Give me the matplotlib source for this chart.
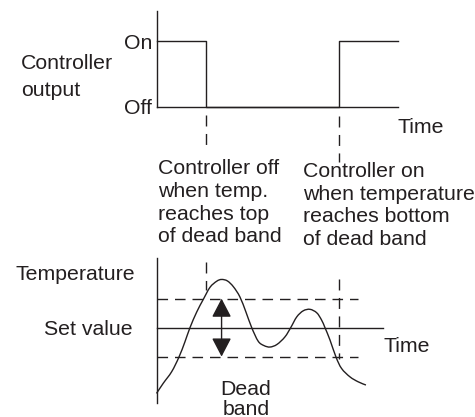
import matplotlib
matplotlib.use("Agg")
import matplotlib.pyplot as plt
from matplotlib.patches import FancyArrowPatch, PathPatch
from matplotlib.path import Path

plt.rcParams['font.family'] = ['Liberation Sans', 'DejaVu Sans']
plt.rcParams['lines.scale_dashes'] = False

INK = '#231f20'
FS = 15.3
LW = 1.0
DASH = (7.6, 5.0)
VDASH = (7.9, 5.4)

W, H = 475, 417

# controller output: 1 = on, 0 = off
switch_off = 20.4
switch_on = 75.7
out_time = [0, switch_off, switch_off, switch_on, switch_on, 100]
out_level = [1, 1, 0, 0, 1, 1]

# temperature trace read against the same time scale
temp_time = [0, 2.8, 6.3, 9.3, 11.8, 13.9, 16.7, 19.4, 22.2, 25.0, 27.0,
             29.4, 31.9, 34.6, 37.1, 39.5, 42.2, 44.6, 47.1, 50.0, 53.3,
             55.7, 58.2, 60.9, 63.7, 66.5, 68.5, 69.9, 72.0, 74.5, 76.8,
             80.3, 83.7, 86.9]
temp_value = [17.73, 18.08, 18.48, 18.98, 19.51, 20.0, 20.54, 20.97, 21.39,
              21.60, 21.66, 21.61, 21.41, 21.06, 20.54, 20.0, 19.53, 19.38,
              19.33, 19.42, 19.68, 20.0, 20.37, 20.58, 20.63, 20.51, 20.26,
              20.0, 19.57, 18.98, 18.59, 18.30, 18.13, 18.02]

set_value = 20.0
band_low, band_high = 19.0, 21.0


def fig_rect(x0, y0, x1, y1):
    # pixel box (top-left origin) -> figure fraction rect
    return [x0 / W, 1 - y1 / H, (x1 - x0) / W, (y1 - y0) / H]


def fxy(x, y):
    return x / W, 1 - y / H


def smooth_path(xs, ys):
    # Catmull-Rom through the points, written out as cubic Bezier segments
    pts = list(zip(xs, ys))
    verts = [pts[0]]
    codes = [Path.MOVETO]
    for i in range(len(pts) - 1):
        p0 = pts[i - 1] if i > 0 else pts[i]
        p1, p2 = pts[i], pts[i + 1]
        p3 = pts[i + 2] if i + 2 < len(pts) else pts[i + 1]
        c1 = (p1[0] + (p2[0] - p0[0]) / 6, p1[1] + (p2[1] - p0[1]) / 6)
        c2 = (p2[0] - (p3[0] - p1[0]) / 6, p2[1] - (p3[1] - p1[1]) / 6)
        verts += [c1, c2, p2]
        codes += [Path.CURVE4] * 3
    return Path(verts, codes)


fig = plt.figure(figsize=(W / 100, H / 100), dpi=100)

# --- controller output panel ---
ax1 = fig.add_axes(fig_rect(156.5, 11, 397.5, 107))
ax1.set_xlim(0, 100)
ax1.set_ylim(0, 1.455)
ax1.plot(out_time, out_level, color=INK, lw=LW, clip_on=False)
for s in ['top', 'right']:
    ax1.spines[s].set_visible(False)
for s in ['left', 'bottom']:
    ax1.spines[s].set_color(INK)
    ax1.spines[s].set_linewidth(LW)
ax1.set_xticks([])
ax1.set_yticks([0, 1], ['Off', 'On'])
ax1.tick_params(axis='y', length=0, pad=3.0, labelsize=FS, labelcolor=INK)
ax1.patch.set_visible(False)

# leader lines from the switching points
ax1.plot([switch_off, switch_off], [-0.12, -0.59], color=INK, lw=LW,
         dashes=VDASH, clip_on=False)
ax1.plot([switch_on, switch_on], [-0.14, -0.84], color=INK, lw=LW,
         dashes=VDASH, clip_on=False)

# --- temperature panel ---
ax2 = fig.add_axes(fig_rect(156.5, 258, 397.5, 403))
ax2.set_xlim(0, 100)
ax2.set_ylim(17.40, 22.40)
for s in ['top', 'right', 'bottom']:
    ax2.spines[s].set_visible(False)
ax2.spines['left'].set_color(INK)
ax2.spines['left'].set_linewidth(LW)
ax2.set_xticks([])
ax2.set_yticks([])
ax2.patch.set_visible(False)

ax2.plot([0, 94], [set_value, set_value], color=INK, lw=LW, clip_on=False)
ax2.plot([0, 83.5], [band_high, band_high], color=INK, lw=LW, dashes=DASH)
ax2.plot([0, 83.5], [band_low, band_low], color=INK, lw=LW, dashes=DASH)
ax2.add_patch(PathPatch(smooth_path(temp_time, temp_value), facecolor='none',
                        edgecolor=INK, lw=LW, clip_on=False))

ax2.plot([switch_off, switch_off], [22.26, 21.29], color=INK, lw=LW,
         dashes=VDASH, clip_on=False)
ax2.plot([switch_on, switch_on], [21.67, 18.92], color=INK, lw=LW,
         dashes=VDASH, clip_on=False)

arrow = FancyArrowPatch((27.0, band_low), (27.0, band_high),
                        arrowstyle='<|-|>,head_length=1.15,head_width=0.6',
                        mutation_scale=10, color=INK, lw=LW,
                        shrinkA=0, shrinkB=0)
ax2.add_patch(arrow)

# --- labels ---
txt = dict(fontsize=FS, color=INK)
fig.text(*fxy(21, 54), 'Controller\noutput', ha='left', va='top',
         linespacing=1.5, **txt)
fig.text(*fxy(397.7, 133.3), 'Time', ha='left', va='baseline', **txt)
fig.text(*fxy(158, 159), 'Controller off\nwhen temp.\nreaches top\nof dead band',
         ha='left', va='top', linespacing=1.25, **txt)
fig.text(*fxy(303, 162), 'Controller on\nwhen temperature\nreaches bottom\nof dead band',
         ha='left', va='top', linespacing=1.25, **txt)
fig.text(*fxy(15, 280), 'Temperature', ha='left', va='baseline', **txt)
fig.text(*fxy(133, 335), 'Set value', ha='right', va='baseline', **txt)
fig.text(*fxy(383.3, 351.7), 'Time', ha='left', va='baseline', **txt)
fig.text(*fxy(246, 380), 'Dead\nband', ha='center', va='top',
         multialignment='center', linespacing=1.08, **txt)

fig.savefig('out.png', dpi=100, facecolor='white')
